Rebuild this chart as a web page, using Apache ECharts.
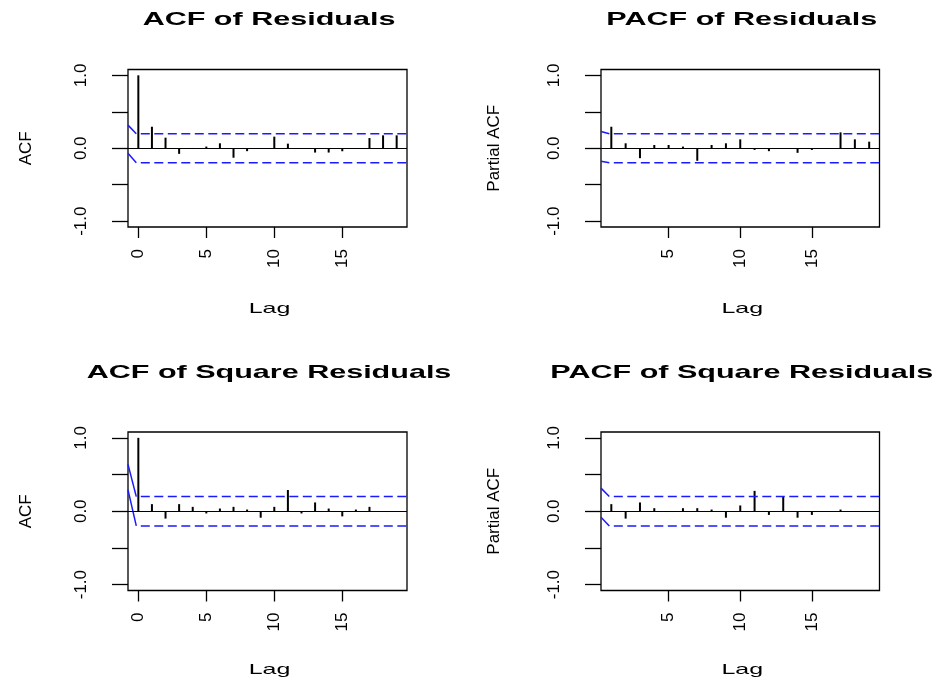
<!DOCTYPE html>
<html><head><meta charset="utf-8">
<script src="https://cdn.jsdelivr.net/npm/echarts@6/dist/echarts.min.js"></script>
<style>html,body{margin:0;padding:0;background:#fff}#c{width:938px;height:681px}</style>
</head><body><div id="c"></div>
<script>
// ---------- data ----------
const panelTitles = ['ACF of Residuals', 'PACF of Residuals', 'ACF of Square Residuals', 'PACF of Square Residuals'];
const yAxisTitles = ['ACF', 'Partial ACF', 'ACF', 'Partial ACF'];
const xAxisTitle = 'Lag';

const acfLags = [0,1,2,3,4,5,6,7,8,9,10,11,12,13,14,15,16,17,18,19];
const pacfLags = [1,2,3,4,5,6,7,8,9,10,11,12,13,14,15,16,17,18,19];

const acfResiduals = [1.0, 0.295, 0.145, -0.077, 0.004, 0.023, 0.068, -0.13, -0.04, 0.0, 0.159, 0.063, 0.0, -0.059, -0.059, -0.041, 0.0, 0.14, 0.177, 0.177];
const pacfResiduals = [0.295, 0.068, -0.136, 0.045, 0.045, 0.023, -0.172, 0.045, 0.068, 0.122, -0.023, -0.04, 0.0, -0.063, -0.023, 0.0, 0.218, 0.122, 0.09];
const acfSquareResiduals = [1.0, 0.097, -0.10, 0.097, 0.06, -0.03, 0.037, 0.06, 0.023, -0.088, 0.06, 0.29, -0.03, 0.12, 0.037, -0.07, 0.023, 0.06, 0.0, 0.0];
const pacfSquareResiduals = [0.097, -0.10, 0.12, 0.042, 0.0, 0.042, 0.042, 0.023, -0.088, 0.079, 0.278, -0.05, 0.194, -0.088, -0.05, 0.0, 0.023, 0.0, 0.0];

const acfXRange = [-0.76, 19.76];
const pacfXRange = [0.28, 19.72];
const yRange = [-1.08, 1.08];
const acfXTicks = [0, 5, 10, 15];
const pacfXTicks = [5, 10, 15];
const yTicks = [-1, -0.5, 0, 0.5, 1];
const yTickLabels = [-1, 0, 1];

const confLimit = [0.2, 0.2, 0.2, 0.2];
const bandStartUpper = [0.317, 0.231, 0.639, 0.315];
const bandStartLower = [-0.068, -0.177, 0.292, -0.083];
const bandJoinLag = [-0.15, 0.86, -0.15, 0.86];

// ---------- layout / style ----------
const panels = [
  {lags: acfLags, vals: acfResiduals, xr: acfXRange, xt: acfXTicks},
  {lags: pacfLags, vals: pacfResiduals, xr: pacfXRange, xt: pacfXTicks},
  {lags: acfLags, vals: acfSquareResiduals, xr: acfXRange, xt: acfXTicks},
  {lags: pacfLags, vals: pacfSquareResiduals, xr: pacfXRange, xt: pacfXTicks}
];
const gridBoxes = [
  {left: 128, top: 69.5, width: 279, height: 157.5},
  {left: 601, top: 69.5, width: 278.5, height: 157.5},
  {left: 128, top: 432, width: 279, height: 158.5},
  {left: 601, top: 432, width: 278.5, height: 158.5}
];
const titleY = [20, 20, 373, 373];
const lagY = [308.5, 308.5, 670, 670];
const nameGaps = [93, 98, 93, 98];
const FONT = '"Liberation Sans", Arial, Helvetica, sans-serif';
const BLUE = '#1a1aff';

const grid = [], xAxis = [], yAxis = [], series = [], graphic = [];

panels.forEach((p, i) => {
  const g = gridBoxes[i];
  grid.push(Object.assign({show: true, borderColor: '#000', borderWidth: 1.3, backgroundColor: 'transparent', containLabel: false}, g));
  xAxis.push({
    type: 'value', gridIndex: i, min: p.xr[0], max: p.xr[1], position: 'bottom',
    axisLine: {show: false, onZero: false}, splitLine: {show: false},
    axisTick: {show: true, inside: false, length: 11, lineStyle: {color: '#000', width: 1.3}, customValues: p.xt},
    axisLabel: {show: true, rotate: 90, margin: 22, color: '#000', fontSize: 17, fontFamily: FONT, customValues: p.xt,
      formatter: v => String(v)}
  });
  yAxis.push({
    type: 'value', gridIndex: i, min: yRange[0], max: yRange[1], position: 'left',
    axisLine: {show: false, onZero: false}, splitLine: {show: false},
    axisTick: {show: true, inside: false, length: 16, lineStyle: {color: '#000', width: 1.3}, customValues: yTicks},
    axisLabel: {show: true, rotate: 90, margin: 38, color: '#000', fontSize: 17, fontFamily: FONT, customValues: yTickLabels,
      formatter: v => Number(v).toFixed(1)},
    name: yAxisTitles[i], nameLocation: 'middle', nameGap: nameGaps[i],
    nameTextStyle: {color: '#000', fontSize: 17, fontFamily: FONT}
  });
  series.push({
    type: 'bar', xAxisIndex: i, yAxisIndex: i, barWidth: 2,
    itemStyle: {color: '#000'},
    data: p.lags.map((l, k) => [l, p.vals[k]]),
    markLine: {silent: true, symbol: ['none', 'none'], label: {show: false},
      lineStyle: {color: '#000', width: 1.2, type: 'solid'}, data: [{yAxis: 0}]}
  });
  const ci = confLimit[i];
  const slant = (start, end) => ({
    type: 'line', xAxisIndex: i, yAxisIndex: i, symbol: 'none', silent: true,
    lineStyle: {color: BLUE, width: 1.5, type: 'solid'},
    data: [[p.xr[0], start], [bandJoinLag[i], end]]
  });
  const dashed = (lvl) => ({
    type: 'line', xAxisIndex: i, yAxisIndex: i, symbol: 'none', silent: true,
    lineStyle: {color: BLUE, width: 1.5, type: [9, 4.5], dashOffset: 9},
    data: [[bandJoinLag[i], lvl], [p.xr[1], lvl]]
  });
  series.push(slant(bandStartUpper[i], ci));
  series.push(slant(bandStartLower[i], -ci));
  series.push(dashed(ci));
  series.push(dashed(-ci));

  const cx = g.left + g.width / 2;
  graphic.push({
    type: 'text', x: cx + 1.5, y: titleY[i], scaleX: 1.65, silent: true,
    style: {text: panelTitles[i], font: 'bold 18.5px ' + FONT, fill: '#000',
      textAlign: 'center', textVerticalAlign: 'middle', align: 'center', verticalAlign: 'middle'}
  });
  graphic.push({
    type: 'text', x: cx + 2, y: lagY[i], scaleX: 1.72, silent: true,
    style: {text: xAxisTitle, font: '14.5px ' + FONT, fill: '#000',
      textAlign: 'center', textVerticalAlign: 'middle', align: 'center', verticalAlign: 'middle'}
  });
});

const chart = echarts.init(document.getElementById('c'), null, {renderer: 'canvas'});
chart.setOption({
  animation: false,
  backgroundColor: '#fff',
  grid, xAxis, yAxis, series, graphic
});
</script>
</body></html>
